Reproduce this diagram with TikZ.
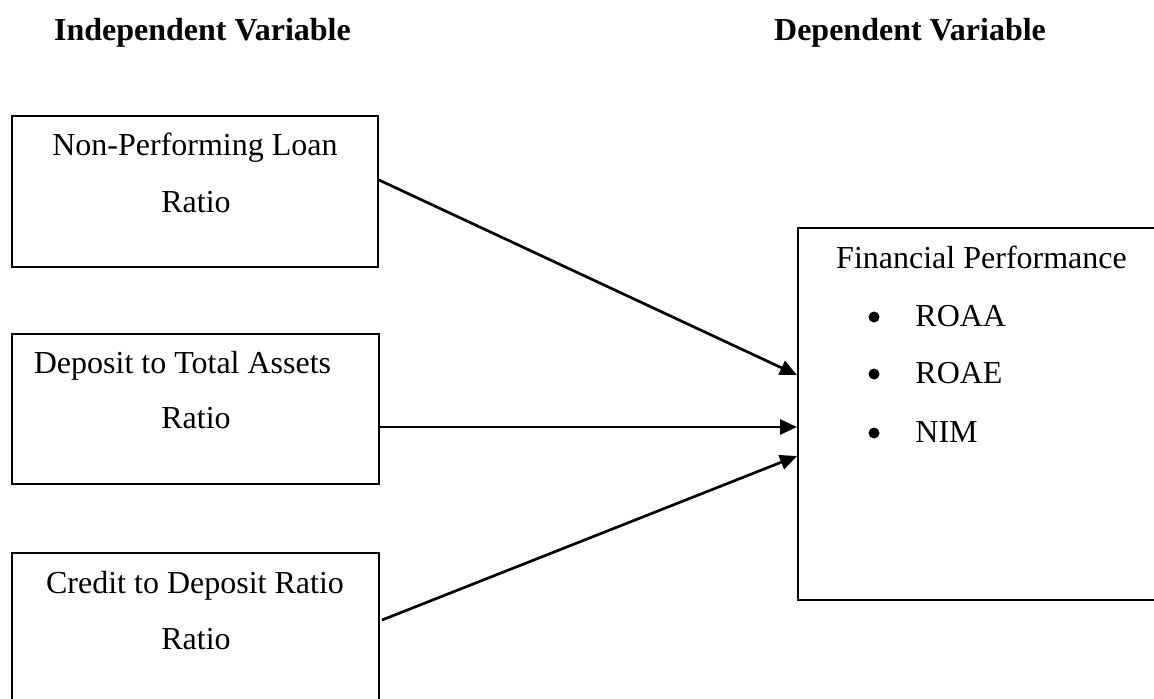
\documentclass[tikz,border=0pt]{standalone}
\usepackage{fontspec}
\setmainfont{Liberation Serif}
\usetikzlibrary{arrows.meta}

\tikzset{
  varbox/.style={draw=black, line width=1pt, rectangle, inner sep=0pt},
  label/.style={inner sep=0pt, anchor=base, font=\fontsize{16}{19}\selectfont},
  heading/.style={label, font=\fontsize{16}{19}\selectfont\bfseries},
  item/.style={label, anchor=base west},
  link/.style={line width=1.35pt, -{Triangle[length=8.5pt, width=7.5pt]}},
}

\begin{document}
\begin{tikzpicture}[x=0.5pt, y=-0.5pt]
  \clip (0,0) rectangle (1154,698);
  \fill[white] (0,0) rectangle (1154,698);

  % column headings
  \node[heading] (hin)  at (202.5,40) {Independent Variable};
  \node[heading] (hdep) at (910,40)   {Dependent Variable};

  % independent variable boxes
  \node[varbox, minimum width=183pt, minimum height=75.5pt] (npl) at (195,191.5) {};
  \node[varbox, minimum width=183.5pt, minimum height=75pt] (dta) at (195.5,409) {};
  \node[varbox, minimum width=183.5pt, minimum height=76pt] (cdr) at (195.5,629) {};

  \node[label] (npl1) at (195,155)   {Non-Performing Loan};
  \node[label] (npl2) at (196,212)   {Ratio};
  \node[label] (dta1) at (182.5,373) {Deposit to Total Assets};
  \node[label] (dta2) at (196,428)   {Ratio};
  \node[label] (cdr1) at (195,593)   {Credit to Deposit Ratio};
  \node[label] (cdr2) at (196,649)   {Ratio};

  % dependent variable box
  \node[varbox, minimum width=186pt, minimum height=186pt] (fp) at (984,414) {};
  \node[label] (fpt) at (981.5,268) {Financial Performance};
  \fill (874,317) circle[radius=5.5];
  \fill (874,374) circle[radius=5.5];
  \fill (874,433) circle[radius=5.5];
  \node[item] (roaa) at (915,326) {ROAA};
  \node[item] (roae) at (915,383) {ROAE};
  \node[item] (nim)  at (915,442) {NIM};

  % connector end points on the box edges
  \coordinate (s1) at (npl.east |- 0,180);
  \coordinate (s2) at (dta.east |- 0,427);
  \coordinate (s3) at (382,620);
  \coordinate (t1) at (fp.west |- 0,375);
  \coordinate (t2) at (fp.west |- 0,427);
  \coordinate (t3) at (fp.west |- 0,456);

  \draw[link] (s1) -- (t1);
  \draw[link] (s2) -- (t2);
  \draw[link] (s3) -- (t3);
\end{tikzpicture}
\end{document}
